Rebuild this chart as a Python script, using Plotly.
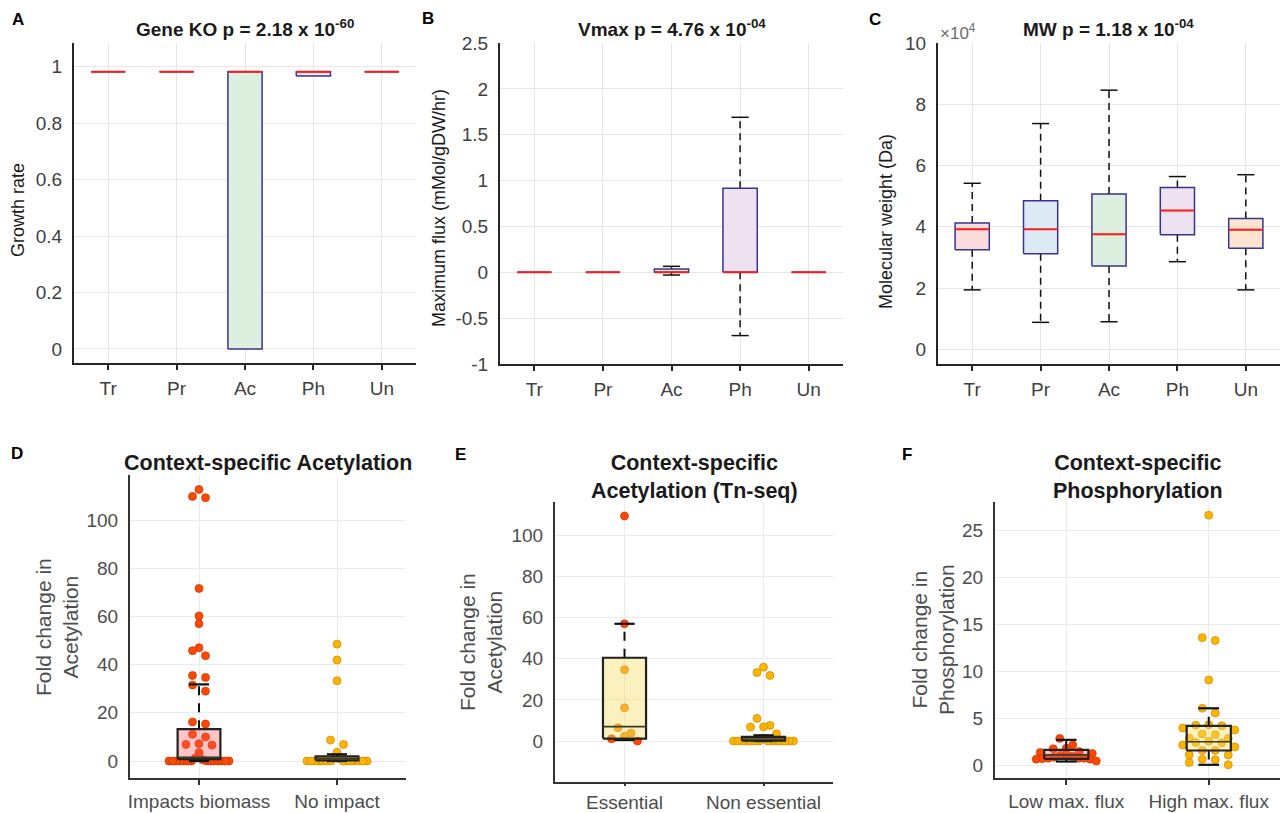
import numpy as np
import plotly.graph_objects as go

W, H = 1280, 813
FONT = "Liberation Sans, Arial, Helvetica, sans-serif"

# ---------------- data ----------------
top_cats = ["Tr", "Pr", "Ac", "Ph", "Un"]

A_q1 = [0.982, 0.982, 0.0, 0.967, 0.982]
A_med = [0.982, 0.982, 0.982, 0.982, 0.982]
A_q3 = [0.982, 0.982, 0.982, 0.982, 0.982]
A_lo = [0.982, 0.982, 0.0, 0.967, 0.982]
A_hi = [0.982, 0.982, 0.982, 0.982, 0.982]

B_q1 = [0.0, 0.0, 0.0, 0.0, 0.0]
B_med = [0.0, 0.0, 0.0, 0.0, 0.0]
B_q3 = [0.0, 0.0, 0.037, 0.916, 0.0]
B_lo = [0.0, 0.0, -0.03, -0.69, 0.0]
B_hi = [0.0, 0.0, 0.065, 1.69, 0.0]

C_q1 = [32500, 31200, 27200, 37400, 33000]
C_med = [39200, 39200, 37600, 45300, 39000]
C_q3 = [41200, 48500, 50700, 52800, 42700]
C_lo = [19400, 8800, 9000, 28600, 19400]
C_hi = [54200, 73700, 84600, 56400, 57000]

D_cats = ["Impacts biomass", "No impact"]
D_q1 = [0.8, 0.3]
D_med = [1.5, 1.0]
D_q3 = [13.2, 1.9]
D_lo = [0.0, 0.0]
D_hi = [31.8, 2.8]
D_impacts = [112.7, 109.8, 109.3, 71.6, 60.2, 57.0, 47.0, 45.8, 43.7, 35.5, 34.7,
             31.5, 29.0, 16.2, 15.4, 11.1, 10.0, 7.2, 6.9, 6.6, 3.5, 2.0, 1.2, 0.5,
             0, 0, 0, 0, 0, 0, 0, 0, 0, 0, 0, 0, 0, 0]
D_noimpact = [48.5, 41.9, 33.3, 8.7, 6.9, 3.6, 1.5, 1.0,
              0, 0, 0, 0, 0, 0, 0, 0, 0, 0, 0, 0, 0, 0]

E_cats = ["Essential", "Non essential"]
E_q1 = [1.2, 0.2]
E_med = [7.0, 1.0]
E_q3 = [40.5, 2.0]
E_lo = [0.5, 0.0]
E_hi = [57.0, 2.8]
E_ess_biomass = [109.4, 57.0, 1.1, 0.0]
E_ess_other = [34.7, 16.2, 6.5, 3.9, 2.3]
E_noness = [35.9, 33.3, 31.9, 11.0, 7.6, 6.9, 6.8, 3.5, 1.5,
            0, 0, 0, 0, 0, 0, 0, 0, 0, 0, 0, 0, 0, 0]

F_cats = ["Low max. flux", "High max. flux"]
F_q1 = [0.72, 1.62]
F_med = [1.15, 2.55]
F_q3 = [1.68, 4.24]
F_lo = [0.45, 0.1]
F_hi = [2.75, 6.1]
F_low = [2.9, 2.2, 1.85, 1.8, 1.5, 1.4, 1.3, 1.2, 1.1, 1.0, 0.9, 0.8, 0.8, 0.8,
         0.75, 0.7, 0.7, 0.5]
F_high = [26.6, 13.6, 13.3, 9.1, 6.1, 5.6, 4.35, 4.3, 4.24, 4.0, 3.8, 3.36, 3.3,
          2.93, 2.9, 2.6, 2.47, 2.45, 2.2, 2.0, 1.62, 1.62, 1.17, 1.15, 0.7, 0.64,
          0.35, 0.1]

# ---------------- layout geometry (pixels) ----------------
panels = {
    1: dict(px=(74, 416, 43, 363), xr=[0.5, 5.5], yr=[-0.05, 1.084]),
    2: dict(px=(500, 843, 43, 364), xr=[0.5, 5.5], yr=[-1, 2.5]),
    3: dict(px=(938, 1280, 43, 364), xr=[0.5, 5.5], yr=[-4800, 100000]),
    4: dict(px=(130, 406, 475, 778), xr=[0.5, 2.5], yr=[-7.05, 118.7]),
    5: dict(px=(555, 833, 502, 782), xr=[0.5, 2.5], yr=[-19.9, 116.2]),
    6: dict(px=(995, 1280, 502, 778), xr=[0.5, 2.5], yr=[-1.3, 28.0]),
}


def ax_names(i):
    return ("x", "y") if i == 1 else (f"x{i}", f"y{i}")


def px_per_unit(i):
    p = panels[i]
    x0, x1, y0, y1 = p["px"]
    return (x1 - x0) / (p["xr"][1] - p["xr"][0]), (y1 - y0) / (p["yr"][1] - p["yr"][0])


def swarm(vals, i, thresh=7.0, step=13.0, maxhalf=30.0):
    """Simple centred beeswarm: group points close in y, spread them horizontally."""
    vals = np.asarray(vals, dtype=float)
    xpu, ypu = px_per_unit(i)
    order = np.argsort(vals)
    offs = np.zeros(len(vals))
    groups, cur = [], [order[0]]
    for idx in order[1:]:
        if (vals[idx] - vals[cur[0]]) * ypu <= thresh:
            cur.append(idx)
        else:
            groups.append(cur)
            cur = [idx]
    groups.append(cur)
    for g in groups:
        n = len(g)
        if n == 1:
            continue
        s = min(step, 2 * maxhalf / (n - 1))
        pos = [(k - (n - 1) / 2) * s for k in range(n)]
        pos = sorted(pos, key=lambda p: (abs(p), p))
        g_sorted = sorted(g, key=lambda j: -vals[j])
        for j, p in zip(g_sorted, pos):
            offs[j] = p / xpu
    return offs


fig = go.Figure()


def add_boxes(i, q1, med, q3, lo, hi, fills, width, capw, edge, edgew, medc, medw,
              wc, ww, wdash, capwidth_line):
    xa, ya = ax_names(i)
    for k in range(len(q1)):
        xc = k + 1
        h = width / 2
        c = capw / 2
        common = dict(mode="lines", xaxis=xa, yaxis=ya, hoverinfo="skip", showlegend=False)
        if hi[k] > q3[k]:
            fig.add_trace(go.Scatter(x=[xc, xc], y=[q3[k], hi[k]],
                                     line=dict(color=wc, width=ww, dash=wdash), **common))
            fig.add_trace(go.Scatter(x=[xc - c, xc + c], y=[hi[k], hi[k]],
                                     line=dict(color=wc, width=capwidth_line), **common))
        if lo[k] < q1[k]:
            fig.add_trace(go.Scatter(x=[xc, xc], y=[q1[k], lo[k]],
                                     line=dict(color=wc, width=ww, dash=wdash), **common))
            fig.add_trace(go.Scatter(x=[xc - c, xc + c], y=[lo[k], lo[k]],
                                     line=dict(color=wc, width=capwidth_line), **common))
        fig.add_trace(go.Scatter(x=[xc - h, xc + h, xc + h, xc - h, xc - h],
                                 y=[q1[k], q1[k], q3[k], q3[k], q1[k]],
                                 fill="toself", fillcolor=fills[k],
                                 line=dict(color=edge, width=edgew), **common))
        fig.add_trace(go.Scatter(x=[xc - h, xc + h], y=[med[k], med[k]],
                                 line=dict(color=medc, width=medw), **common))


def add_points(i, xc, vals, color, edgecolor, offs=None):
    xa, ya = ax_names(i)
    if offs is None:
        offs = swarm(vals, i)
    fig.add_trace(go.Scatter(x=xc + np.asarray(offs), y=vals, mode="markers",
                             marker=dict(size=8, color=color,
                                         line=dict(color=edgecolor, width=0.7)),
                             xaxis=xa, yaxis=ya, hoverinfo="skip", showlegend=False))


top_fills = ["#fbdcdc", "#dde9f5", "#ddefde", "#efe2f0", "#fde4cf"]
TOP = dict(width=0.5, capw=0.25, edge="#35358f", edgew=1.5, medc="#ff1a1a", medw=2,
           wc="#111111", ww=1.5, wdash="7px,5px", capwidth_line=1.5)
add_boxes(1, A_q1, A_med, A_q3, A_lo, A_hi, top_fills, **TOP)
add_boxes(2, B_q1, B_med, B_q3, B_lo, B_hi, top_fills, **TOP)
add_boxes(3, C_q1, C_med, C_q3, C_lo, C_hi, top_fills, **TOP)

RED, RED_E = "#ff4800", "#c43400"
ORG, ORG_E = "#ff8f00", "#c86a00"
GLD, GLD_E = "#ffb400", "#c98a00"
PINK_F = "rgba(255,90,90,0.35)"
YEL_F = "rgba(242,222,100,0.42)"
BOT = dict(width=0.31, capw=0.145, edge="#222222", edgew=2.2, medc="#3a3a2a", medw=1.6,
           wc="#111111", ww=2.0, wdash="9px,8px", capwidth_line=2.2)

# D
add_points(4, 1, D_impacts, RED, RED_E)
add_points(4, 2, D_noimpact, GLD, GLD_E)
add_boxes(4, D_q1, D_med, D_q3, D_lo, D_hi, [PINK_F, YEL_F], **BOT)

# E
E_ess_all = E_ess_biomass + E_ess_other
offs_e = swarm(E_ess_all, 5)
nb = len(E_ess_biomass)
add_points(5, 1, E_ess_biomass, RED, RED_E, offs_e[:nb])
add_points(5, 1, E_ess_other, ORG, ORG_E, offs_e[nb:])
add_points(5, 2, E_noness, GLD, GLD_E)
add_boxes(5, E_q1, E_med, E_q3, E_lo, E_hi, [YEL_F, YEL_F], **BOT)

# F
add_points(6, 1, F_low, RED, RED_E)
add_points(6, 2, F_high, GLD, GLD_E)
add_boxes(6, F_q1, F_med, F_q3, F_lo, F_hi, [PINK_F, YEL_F], **BOT)

# ---------------- axes ----------------
layout_axes = {}
y_ticks = {
    1: ([0, 0.2, 0.4, 0.6, 0.8, 1], ["0", "0.2", "0.4", "0.6", "0.8", "1"]),
    2: ([-1, -0.5, 0, 0.5, 1, 1.5, 2, 2.5], ["-1", "-0.5", "0", "0.5", "1", "1.5", "2", "2.5"]),
    3: ([0, 20000, 40000, 60000, 80000, 100000], ["0", "2", "4", "6", "8", "10"]),
    4: ([0, 20, 40, 60, 80, 100], ["0", "20", "40", "60", "80", "100"]),
    5: ([0, 20, 40, 60, 80, 100], ["0", "20", "40", "60", "80", "100"]),
    6: ([0, 5, 10, 15, 20, 25], ["0", "5", "10", "15", "20", "25"]),
}
x_labels = {1: top_cats, 2: top_cats, 3: top_cats, 4: D_cats, 5: E_cats, 6: F_cats}

for i, p in panels.items():
    x0, x1, y0, y1 = p["px"]
    xa, ya = ax_names(i)
    xkey = "xaxis" if i == 1 else f"xaxis{i}"
    ykey = "yaxis" if i == 1 else f"yaxis{i}"
    top = i <= 3
    tick_font = dict(family=FONT, size=19, color="#404040" if top else "#4d4d4d")
    gridc = "#e6e6e6" if top else "#ebebeb"
    linec = "#262626" if top else "#333333"
    layout_axes[xkey] = dict(
        domain=[x0 / W, min(x1 / W, 1.0)], anchor=ya, range=p["xr"],
        tickvals=list(range(1, len(x_labels[i]) + 1)), ticktext=x_labels[i],
        showgrid=True, gridcolor=gridc, gridwidth=1.2, zeroline=False,
        showline=True, linecolor=linec, linewidth=2, automargin=False,
        ticks="outside", ticklen=2 if i == 5 else 5, tickwidth=1.5, tickcolor=linec,
        tickfont=tick_font, ticklabelstandoff=2 if top else 0, fixedrange=True)
    tv, tt = y_ticks[i]
    layout_axes[ykey] = dict(
        domain=[1 - y1 / H, 1 - y0 / H], anchor=xa, range=p["yr"],
        tickvals=tv, ticktext=tt, automargin=False,
        showgrid=True, gridcolor=gridc, gridwidth=1.2, zeroline=False,
        showline=True, linecolor=linec, linewidth=2, ticks="",
        tickfont=tick_font, ticklabelstandoff=6, fixedrange=True)

# ---------------- annotations ----------------
ann = []


def add_text(text, xpx, ypx, size, bold=False, color="#000000", angle=0, xanchor="center"):
    ann.append(dict(text=f"<b>{text}</b>" if bold else text, x=xpx / W, y=1 - ypx / H,
                    xref="paper", yref="paper", xanchor=xanchor, yanchor="middle",
                    showarrow=False, textangle=angle,
                    font=dict(family=FONT, size=size, color=color)))


for letter, (lx, ly) in {"A": (18, 19), "B": (428, 18), "C": (875, 19),
                         "D": (17, 453), "E": (460, 454), "F": (907, 454)}.items():
    add_text(letter, lx, ly, 17, bold=True)

add_text("Gene KO p = 2.18 x 10<sup>-60</sup>", 245, 28, 19, bold=True, color="#1a1a1a")
add_text("Vmax p = 4.76 x 10<sup>-04</sup>", 671.5, 28, 19, bold=True, color="#1a1a1a")
add_text("MW p = 1.18 x 10<sup>-04</sup>", 1108, 28, 19, bold=True, color="#1a1a1a")
add_text("×10<sup>4</sup>", 938, 32, 17, color="#6b6b6b", xanchor="left")

add_text("Growth rate", 18, 210, 18, angle=-90, color="#1a1a1a")
add_text("Maximum flux (mMol/gDW/hr)", 439, 208, 18, angle=-90, color="#1a1a1a")
add_text("Molecular weight (Da)", 886, 222, 18, angle=-90, color="#1a1a1a")

add_text("Context-specific Acetylation", 268, 463, 21.5, bold=True, color="#1a1a1a")
add_text("Context-specific<br>Acetylation (Tn-seq)", 694, 477, 21.5, bold=True, color="#1a1a1a")
add_text("Context-specific<br>Phosphorylation", 1138, 477, 21.5, bold=True, color="#1a1a1a")

add_text("Fold change in<br>Acetylation", 57, 627, 21, angle=-90, color="#4d4d4d")
add_text("Fold change in<br>Acetylation", 481, 642, 21, angle=-90, color="#4d4d4d")
add_text("Fold change in<br>Phosphorylation", 933, 640, 21, angle=-90, color="#4d4d4d")

fig.update_layout(
    width=W, height=H, margin=dict(l=0, r=0, t=0, b=0, autoexpand=False),
    paper_bgcolor="white", plot_bgcolor="white",
    showlegend=False, annotations=ann, font=dict(family=FONT),
    **layout_axes)

fig.write_html("out.html", config={"displayModeBar": False},
               post_script="document.body.style.margin='0px';document.body.style.padding='0px';")
